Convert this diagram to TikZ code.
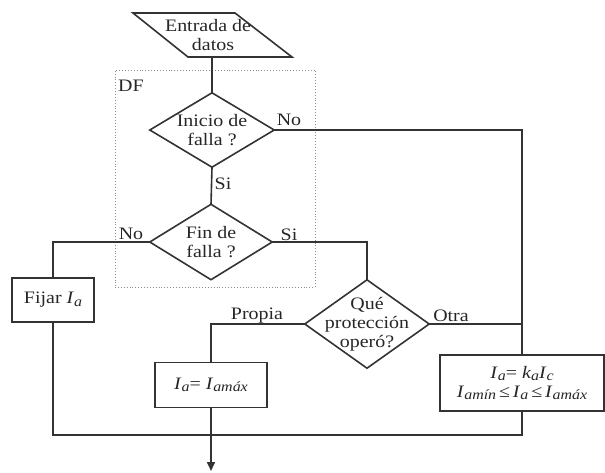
\documentclass[tikz,border=0pt]{standalone}
\usepackage{fontspec}
\setmainfont{Liberation Serif}[FakeStretch=1.14]
\usetikzlibrary{arrows.meta}
\newcommand{\ssub}[1]{\raisebox{-0.3ex}{\fontsize{14}{14}\selectfont\textit{#1}}}
\begin{document}
\begin{tikzpicture}[x=1pt,y=-1pt,
  font=\fontsize{17.5}{19}\selectfont,
  line/.style={draw=black!80, line width=1.6pt},
  box/.style={draw=black!80, line width=1.6pt, rectangle, inner sep=0pt, align=center},
  dia/.style={rectangle, inner sep=0pt, align=center},
  lbl/.style={inner sep=0pt, text=black!85}
]
\useasboundingbox (0,0) rectangle (605,472);
% DF group box
\node[draw=black!45, dotted, line width=0.9pt, minimum width=200pt, minimum height=217pt, inner sep=0pt] (df) at (215,178.5) {};
\node[lbl] (dflbl) at (131,86) {DF};
% input parallelogram
\node[dia, minimum width=100pt, minimum height=44pt, text=black!85] (par) at (208,35) {Entrada de\\\hspace*{10pt}datos};
\draw[line] (133,13) -- (235,13) -- (292,57) -- (188,57) -- cycle;
% decisions
\node[dia, minimum width=124pt, minimum height=74pt, text=black!85] (d1) at (212,130) {Inicio de\\falla ?};
\draw[line] (d1.north) -- (d1.east) -- (d1.south) -- (d1.west) -- cycle;
\node[dia, minimum width=122pt, minimum height=75pt, text=black!85] (d2) at (211,242) {Fin de\\falla ?};
\draw[line] (d2.north) -- (d2.east) -- (d2.south) -- (d2.west) -- cycle;
\node[dia, minimum width=124pt, minimum height=88pt, text=black!85] (d3) at (367,324) {Qué\\protección\\operó?};
\draw[line] (d3.north) -- (d3.east) -- (d3.south) -- (d3.west) -- cycle;
% process boxes
\node[box, minimum width=82pt, minimum height=44pt, text=black!85] (fij) at (53,300) {Fijar \textit{I}\ssub{a}};
\node[box, minimum width=112pt, minimum height=45pt, text=black!85] (b1) at (211,385) {\textit{I}\ssub{a}= \textit{I}\ssub{amáx}};
\node[box, minimum width=164pt, minimum height=56pt, text=black!85] (b2) at (522,383) {\textit{I}\ssub{a}= \textit{k}\ssub{a}\textit{I}\ssub{c}\\\textit{I}\ssub{amín}\,≤\,\textit{I}\ssub{a}\,≤\,\textit{I}\ssub{amáx}};
% labels
\node[lbl] (l1) at (289,120) {No};
\node[lbl] (l2) at (223,184) {Si};
\node[lbl] (l3) at (131,234) {No};
\node[lbl] (l4) at (289,235) {Si};
\node[lbl] (l5) at (257,316) {Propia};
\node[lbl] (l6) at (451,316) {Otra};
% connectors
\coordinate (bot) at (211,435);
\coordinate (fin) at (211,471);
\draw[line] (par.south -| d1.north) -- (d1.north);
\draw[line] (d1.south) -- (d2.north);
\draw[line] (d1.east) -| (b2.north);
\draw[line] (d2.west) -| (fij.north);
\draw[line] (d2.east) -| (d3.north);
\draw[line] (d3.west) -| (b1.north);
\draw[line] (d3.east) -- (d3.east -| b2.north);
\draw[line] (fij.south) |- (bot) -| (b2.south);
\draw[line] (b1.south) -- (bot);
\draw[line, -{Triangle[width=8pt,length=9pt]}] (bot) -- (fin);
\end{tikzpicture}
\end{document}
